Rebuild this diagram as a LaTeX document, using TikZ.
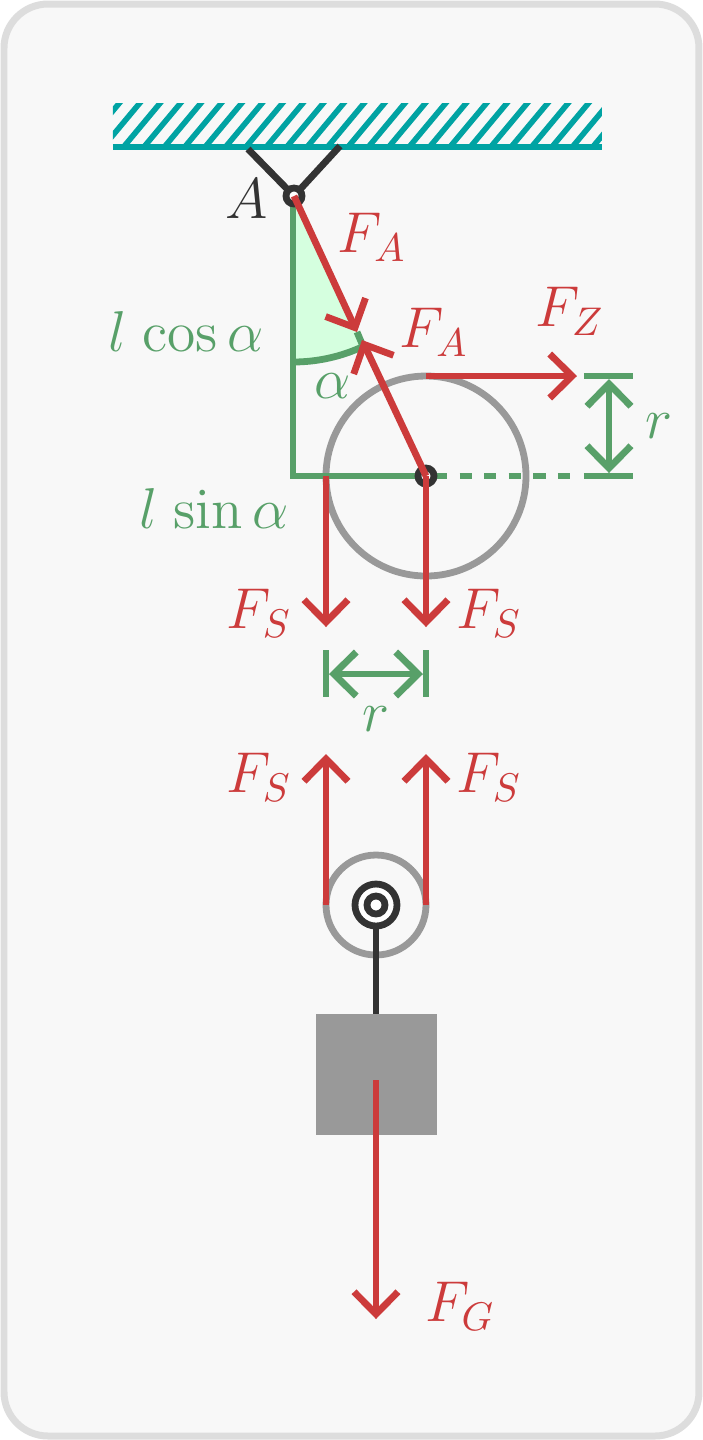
\documentclass[tikz,border=0pt]{standalone}
\usepackage{amsmath}
\usepackage{amssymb}
\usepackage{color}
\usetikzlibrary{arrows.meta}

\definecolor{forcered}{HTML}{CC3B3B}
\definecolor{dimgreen}{HTML}{58A069}
\definecolor{wedgegreen}{HTML}{D5FFDF}
\definecolor{wallteal}{HTML}{00A3A3}
\definecolor{pulleygrey}{HTML}{999999}
\definecolor{rimgrey}{HTML}{DDDDDD}
\definecolor{panelgrey}{HTML}{F8F8F8}
\definecolor{darkgrey}{HTML}{333333}

\tikzset{
	force/.style={forcered, line width=1.7pt, -{Straight Barb[length=5.6pt,width=11pt]}},
	dimline/.style={dimgreen, line width=1.7pt},
	dimarrow/.style={dimline, {Straight Barb[length=5.6pt,width=11pt]}-{Straight Barb[length=5.6pt,width=11pt]}},
	pulley/.style={pulleygrey, line width=1.7pt},
	rod/.style={darkgrey, line width=1.7pt},
	hatchline/.style={wallteal, line width=1.4pt},
	bearing/.style={darkgrey, line width=1.7pt, fill=white}
}

\begin{document}
\begin{tikzpicture}[x=0.25pt, y=-0.25pt]\Large

			\useasboundingbox (0, 0) rectangle (703, 1440);
			\draw[rimgrey, fill=panelgrey, line width=1.75pt, rounded corners=11pt] (4, 4) rectangle (699, 1436);

			\coordinate (A) at (294, 196);
			\coordinate (wheel) at (426, 476);
			\coordinate (corner) at (293, 476);
			\coordinate (block) at (376, 905);

			% ceiling
			\begin{scope}
				\clip (113, 103) rectangle (602, 148);
				\foreach \i in {-2,...,24}
					\draw[hatchline] (121+20.4*\i, 150) -- ++(41.7, -50);
			\end{scope}
			\draw[wallteal, line width=1.3pt] (113, 147) -- (602, 147);

			% wedge
			\coordinate (wedgeA) at (293, 196);
			\coordinate (wedgeB) at (293, 362);
			\fill[wedgegreen] (wedgeA) -- (wedgeB) arc[start angle=90, end angle=65, radius=166] -- cycle;
			\draw[dimline] (wedgeB) arc[start angle=90, end angle=65, radius=166] -- (357, 332);

			% pulleys
			\draw[pulley] (wheel) circle[radius=100];
			\draw[pulley] (block) circle[radius=50];

			% green lengths
			\draw[dimline] (293, 205) -- (corner) -- (wheel);
			\draw[dimline, dash pattern=on 3.07pt off 3.07pt] (435, 476) -- (573, 476);
			\draw[dimline] (584, 376) -- (633, 376);
			\draw[dimline] (584, 476) -- (633, 476);
			\draw[dimarrow] (609, 379) -- (609, 473);
			\draw[dimline] (326, 650) -- (326, 697);
			\draw[dimline] (426, 650) -- (426, 697);
			\draw[dimarrow] (329, 674) -- (423, 674);

			% suspension
			\draw[rod] (248, 149) -- (A);
			\draw[rod] (340, 146) -- (A);
			\draw[bearing] (A) circle[radius=8];
			\draw[bearing] (wheel) circle[radius=8];

			% weight
			\fill[pulleygrey] (316, 1014) rectangle (437, 1135);
			\coordinate (hook) at (376, 1014);
			\draw[rod] (block) -- (hook);
			\draw[bearing] (block) circle[radius=21];
			\draw[bearing] (block) circle[radius=9];

			% forces
			\draw[force] (A) -- (357, 332);
			\draw[force] (wheel) -- (362, 340);
			\draw[force] (426, 376) -- (577, 376);
			\draw[force] (326, 476) -- (326, 627);
			\draw[force] (wheel) -- (426, 627);
			\draw[force] (326, 905) -- (326, 754);
			\draw[force] (426, 905) -- (426, 754);
			\draw[force] (376, 1080) -- (376, 1319);

			\node[darkgrey] (labelA) at (247, 199){$A$};
			\node[forcered] (labelFA) at (372, 237){$F_A$};
			\node[forcered] (labelFAb) at (434, 332){$F_A$};
			\node[forcered] (labelFZ) at (570, 311){$F_Z$};
			\node[forcered] (labelFSa) at (259, 613){$F_S$};
			\node[forcered] (labelFSb) at (489, 613){$F_S$};
			\node[forcered] (labelFSc) at (259, 777){$F_S$};
			\node[forcered] (labelFSd) at (489, 777){$F_S$};
			\node[forcered] (labelFG) at (460, 1306){$F_G$};
			\node[dimgreen] (labelcos) at (186, 331){$l\mkern2mu\cos\alpha$};
			\node[dimgreen] (labelsin) at (214, 508){$l\mkern2mu\sin\alpha$};
			\node[dimgreen] (labelangle) at (333, 386){$\alpha$};
			\node[dimgreen] (labelr) at (659, 426){$r$};
			\node[dimgreen] (labelrb) at (376, 719){$r$};
		\end{tikzpicture}
\end{document}
